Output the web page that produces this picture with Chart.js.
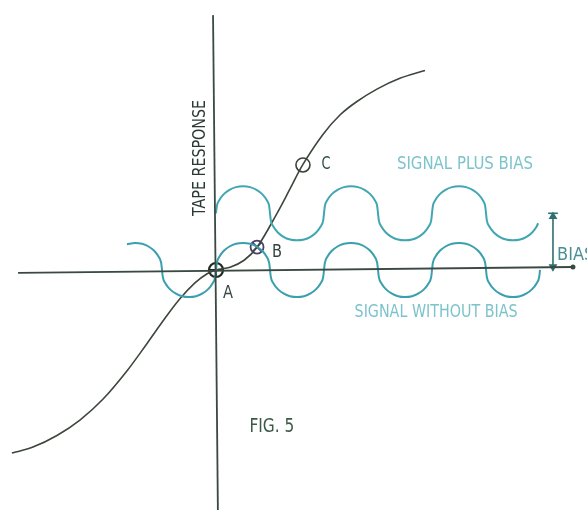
<!DOCTYPE html>
<html>
<head>
<meta charset="utf-8">
<script src="https://cdn.jsdelivr.net/npm/chart.js@4"></script>
<style>
  html, body { margin: 0; padding: 0; background: #ffffff; }
  #wrap { width: 587px; height: 510px; }
</style>
</head>
<body>
<div id="wrap"><canvas id="fig5" width="587" height="510"></canvas></div>
<script>
// units: one wave radius = 1, origin at point A
const bias = 2.1;

// tape transfer curve (S shape)
const curveX = [-7.56, -6.78, -5.89, -5.04, -4.19, -3.30, -2.56, -1.89, -1.33, -0.78, -0.33, 0, 0.52, 1.04, 1.52, 2.26, 2.74, 3.22, 3.96, 4.59, 5.22, 5.96, 6.81, 7.74];
const curveY = [-6.78, -6.56, -6.13, -5.56, -4.79, -3.74, -2.73, -1.79, -1.06, -0.48, -0.14, 0, 0.10, 0.36, 0.84, 2.10, 3.00, 3.91, 5.02, 5.74, 6.24, 6.70, 7.10, 7.39];

// signal without bias
const lowX = [-3.3, -3, -2.74, -2.5, -2.29, -2.13, -2.03, -2,
  -1.97, -1.87, -1.71, -1.5, -1.26, -1, -0.74, -0.5, -0.29, -0.13, -0.03, 0,
  0.03, 0.13, 0.29, 0.5, 0.74, 1, 1.26, 1.5, 1.71, 1.87, 1.97, 2,
  2.03, 2.13, 2.29, 2.5, 2.74, 3, 3.26, 3.5, 3.71, 3.87, 3.97, 4,
  4.03, 4.13, 4.29, 4.5, 4.74, 5, 5.26, 5.5, 5.71, 5.87, 5.97, 6,
  6.03, 6.13, 6.29, 6.5, 6.74, 7, 7.26, 7.5, 7.71, 7.87, 7.97, 8,
  8.03, 8.13, 8.29, 8.5, 8.74, 9, 9.26, 9.5, 9.71, 9.87, 9.97, 10,
  10.03, 10.13, 10.29, 10.5, 10.74, 11, 11.26, 11.5, 11.71, 11.87, 11.97, 12];
const lowY = [0.95, 1, 0.97, 0.87, 0.71, 0.5, 0.26, 0,
  -0.26, -0.5, -0.71, -0.87, -0.97, -1, -0.97, -0.87, -0.71, -0.5, -0.26, 0,
  0.26, 0.5, 0.71, 0.87, 0.97, 1, 0.97, 0.87, 0.71, 0.5, 0.26, 0,
  -0.26, -0.5, -0.71, -0.87, -0.97, -1, -0.97, -0.87, -0.71, -0.5, -0.26, 0,
  0.26, 0.5, 0.71, 0.87, 0.97, 1, 0.97, 0.87, 0.71, 0.5, 0.26, 0,
  -0.26, -0.5, -0.71, -0.87, -0.97, -1, -0.97, -0.87, -0.71, -0.5, -0.26, 0,
  0.26, 0.5, 0.71, 0.87, 0.97, 1, 0.97, 0.87, 0.71, 0.5, 0.26, 0,
  -0.26, -0.5, -0.71, -0.87, -0.97, -1, -0.97, -0.87, -0.71, -0.5, -0.26, 0];

// signal plus bias
const highX = [0,
  0.03, 0.13, 0.29, 0.5, 0.74, 1, 1.26, 1.5, 1.71, 1.87, 1.97, 2,
  2.03, 2.13, 2.29, 2.5, 2.74, 3, 3.26, 3.5, 3.71, 3.87, 3.97, 4,
  4.03, 4.13, 4.29, 4.5, 4.74, 5, 5.26, 5.5, 5.71, 5.87, 5.97, 6,
  6.03, 6.13, 6.29, 6.5, 6.74, 7, 7.26, 7.5, 7.71, 7.87, 7.97, 8,
  8.03, 8.13, 8.29, 8.5, 8.74, 9, 9.26, 9.5, 9.71, 9.87, 9.97, 10,
  10.03, 10.13, 10.29, 10.5, 10.74, 11, 11.26, 11.5, 11.71, 11.87, 11.93];
const highY = [2.1,
  2.36, 2.6, 2.81, 2.97, 3.07, 3.1, 3.07, 2.97, 2.81, 2.6, 2.36, 2.1,
  1.84, 1.6, 1.39, 1.23, 1.13, 1.1, 1.13, 1.23, 1.39, 1.6, 1.84, 2.1,
  2.36, 2.6, 2.81, 2.97, 3.07, 3.1, 3.07, 2.97, 2.81, 2.6, 2.36, 2.1,
  1.84, 1.6, 1.39, 1.23, 1.13, 1.1, 1.13, 1.23, 1.39, 1.6, 1.84, 2.1,
  2.36, 2.6, 2.81, 2.97, 3.07, 3.1, 3.07, 2.97, 2.81, 2.6, 2.36, 2.1,
  1.84, 1.6, 1.39, 1.23, 1.13, 1.1, 1.13, 1.23, 1.39, 1.6, 1.73];

// axes of the figure
const hAxisX = [-7.33, 13.22];
const hAxisY = [-0.11, 0.11];
const vAxisX = [-0.11, 0.07];
const vAxisY = [9.44, -8.9];

const biasX = 12.48;

function pts(xs, ys) {
  return xs.map((x, i) => ({ x: x, y: ys[i] }));
}

const ink = "#3a4a42";
const teal = "#3a9fae";
const tealText = "#7cc3cb";
const fontStack = "'Liberation Sans Narrow', 'DejaVu Sans Condensed', 'DejaVu Sans', sans-serif";

const textLabels = {
  id: "textLabels",
  afterDatasetsDraw(chart) {
    const ctx = chart.ctx;
    const sx = chart.scales.x;
    const sy = chart.scales.y;
    const items = [
      { t: "A", x: 0.44, y: -0.85, size: 18, w: 10, c: ink, a: "center" },
      { t: "B", x: 2.26, y: 0.67, size: 18, w: 10, c: "#33443c", a: "center" },
      { t: "C", x: 4.07, y: 3.93, size: 18, w: 9, c: "#2f4a48", a: "center" },
      { t: "SIGNAL PLUS BIAS", x: 9.22, y: 3.89, size: 17, w: 136, c: tealText, a: "center" },
      { t: "SIGNAL WITHOUT BIAS", x: 8.15, y: -1.56, size: 17, w: 163, c: tealText, a: "center" },
      { t: "FIG. 5", x: 2.07, y: -5.81, size: 19, w: 45, c: "#3c5a48", a: "center" },
      { t: "BIAS", x: 12.63, y: 0.56, size: 18, w: 38, c: "#4a8f96", a: "left" }
    ];
    ctx.save();
    ctx.textBaseline = "middle";
    items.forEach((it) => {
      ctx.font = it.size + "px " + fontStack;
      ctx.fillStyle = it.c;
      ctx.textAlign = it.a;
      ctx.fillText(it.t, sx.getPixelForValue(it.x), sy.getPixelForValue(it.y), it.w);
    });
    // vertical axis title
    ctx.textAlign = "center";
    ctx.translate(sx.getPixelForValue(-0.59), sy.getPixelForValue(4.15));
    ctx.rotate(-Math.PI / 2);
    ctx.font = "18px " + fontStack;
    ctx.fillStyle = "#2c3a36";
    ctx.fillText("TAPE RESPONSE", 0, 0, 116);
    ctx.restore();
  }
};

new Chart(document.getElementById("fig5"), {
  type: "scatter",
  data: {
    datasets: [
      { data: pts(hAxisX, hAxisY), showLine: true, borderColor: ink, borderWidth: 1.8, pointRadius: [0, 2.5], pointBackgroundColor: ink, pointBorderWidth: 0 },
      { data: pts(vAxisX, vAxisY), showLine: true, borderColor: ink, borderWidth: 1.8, pointRadius: 0 },
      { data: pts(lowX, lowY), showLine: true, borderColor: teal, borderWidth: 2, pointRadius: 0, cubicInterpolationMode: "monotone" },
      { data: pts(highX, highY), showLine: true, borderColor: "#40a6b2", borderWidth: 2, pointRadius: 0, cubicInterpolationMode: "monotone" },
      { data: pts(curveX, curveY), showLine: true, borderColor: "#3c463c", borderWidth: 1.6, pointRadius: 0, tension: 0.35 },
      // bias arrow
      { data: [{ x: biasX, y: 0.12 }, { x: biasX, y: bias - 0.12 }], showLine: true, borderColor: "#2f6f70", borderWidth: 1.6,
        pointStyle: "triangle", pointRadius: 3.5, pointRotation: [180, 0], pointBackgroundColor: "#2f6f70", pointBorderColor: "#2f6f70" },
      { data: [{ x: biasX - 0.18, y: bias }, { x: biasX + 0.18, y: bias }], showLine: true, borderColor: "#2f6f70", borderWidth: 1.6, pointRadius: 0 },
      // points A, B, C
      { data: [{ x: 0, y: 0 }], pointStyle: "circle", pointRadius: 7, borderColor: "#1e2a24", borderWidth: 2.2, backgroundColor: "rgba(0,0,0,0)" },
      { data: [{ x: 0, y: 0 }], pointStyle: "cross", pointRadius: 7, borderColor: "#1e2a24", borderWidth: 2 },
      { data: [{ x: 1.52, y: 0.85 }], pointStyle: "circle", pointRadius: 6.5, borderColor: "#4a3f6e", borderWidth: 1.8, backgroundColor: "rgba(0,0,0,0)" },
      { data: [{ x: 1.52, y: 0.85 }], pointStyle: "crossRot", pointRadius: 6.5, borderColor: "#4a3f6e", borderWidth: 1.6 },
      { data: [{ x: 3.22, y: 3.89 }], pointStyle: "circle", pointRadius: 7, borderColor: "#3a4236", borderWidth: 1.6, backgroundColor: "rgba(0,0,0,0)" }
    ]
  },
  options: {
    responsive: false,
    animation: false,
    clip: false,
    layout: { padding: 0, autoPadding: false },
    plugins: { legend: { display: false }, tooltip: { enabled: false } },
    scales: {
      x: { type: "linear", display: false, min: -8, max: 13.74 },
      y: { type: "linear", display: false, min: -8.89, max: 10 }
    }
  },
  plugins: [textLabels]
});
</script>
</body>
</html>
